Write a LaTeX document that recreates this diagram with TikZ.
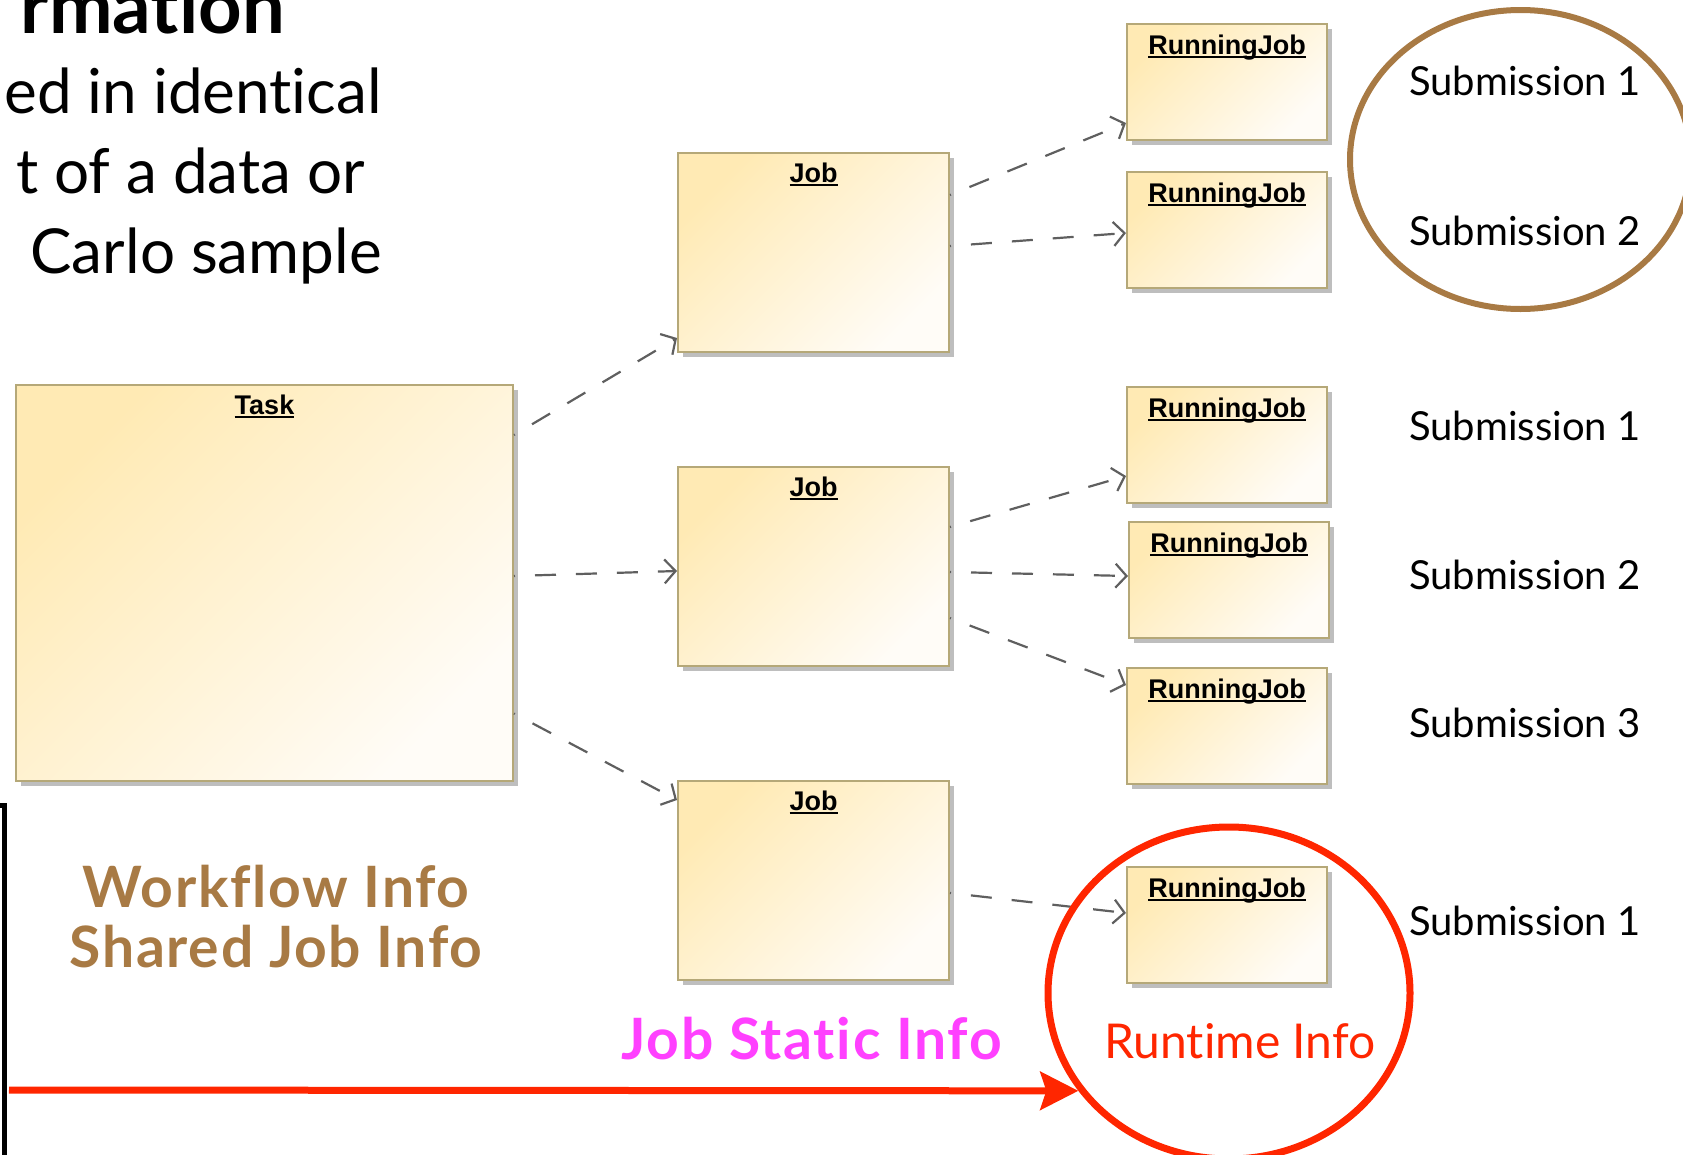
\documentclass[tikz,border=0pt]{standalone}
\usepackage{fontspec}
\setmainfont{Lato}[Ligatures=NoCommon]
\newfontfamily\umlfont{Liberation Sans}
\usepackage{tikz}
\usetikzlibrary{shapes.geometric,arrows.meta,shadows}
\definecolor{umlfill}{RGB}{255,234,180}
\definecolor{umlfade}{RGB}{255,252,247}
\definecolor{umlborder}{RGB}{181,168,120}
\definecolor{umlshadow}{RGB}{190,190,190}
\definecolor{depgray}{RGB}{95,95,95}
\definecolor{infobrown}{RGB}{168,122,68}
\definecolor{staticpink}{RGB}{255,64,255}
\definecolor{runtimered}{RGB}{255,38,0}
% underlined object name, rule just under the baseline
\newcommand{\umlname}[1]{\setbox0\hbox{#1}\rlap{\rule[-4pt]{\wd0}{2pt}}\box0}

\begin{document}
\begin{tikzpicture}[x=1pt, y=-1pt,
    umlbox/.style={draw=umlborder, line width=2pt, top color=umlfill, bottom color=umlfade, shading angle=45,
        drop shadow={shadow xshift=5pt, shadow yshift=-5pt, fill=umlshadow, opacity=1}, inner sep=0pt},
    jobbox/.style={umlbox, minimum width=271pt, minimum height=199pt},
    runbox/.style={umlbox, minimum width=200pt, minimum height=116pt},
    umltitle/.style={font=\umlfont\bfseries\fontsize{27}{32}\selectfont, anchor=base, inner sep=0pt},
    dep/.style={draw=depgray, line width=2.2pt, dash pattern=on 21pt off 20pt, dash phase=20pt,
        -{Straight Barb[length=11pt,width=24pt]}},
    sublabel/.style={font=\fontsize{40}{48}\selectfont, anchor=base west, inner sep=0pt},
    slidetext/.style={font=\fontsize{62}{80}\selectfont, anchor=base east, inner sep=0pt},
    bigbold/.style={font=\bfseries\fontsize{57}{64}\selectfont\addfontfeature{LetterSpace=3}, anchor=base, inner sep=0pt}
]
    \useasboundingbox (0,0) rectangle (1683,1154);
    \clip (0,0) rectangle (1683,1154);

    % slide text cut off at the left
    \node[slidetext, font=\bfseries\fontsize{76}{80}\selectfont] (head) at (285,33) {rmation};
    \node[slidetext] (line1) at (382,113) {ed in identical};
    \node[slidetext] (line2) at (365,193) {t of a data or};
    \node[slidetext] (line3) at (382,273) {Carlo sample};

    % objects
    \node[umlbox, minimum width=497pt, minimum height=396pt] (task) at (264.5,583) {};
    \node[jobbox] (job1) at (813.5,252.5) {};
    \node[jobbox] (job2) at (813.5,566.5) {};
    \node[jobbox] (job3) at (813.5,880.5) {};
    \node[runbox] (rj1) at (1227,82) {};
    \node[runbox] (rj2) at (1227,230) {};
    \node[runbox] (rj3) at (1227,445) {};
    \node[runbox] (rj4) at (1229,580) {};
    \node[runbox] (rj5) at (1227,726) {};
    \node[runbox] (rj6) at (1227,925) {};

    \node[umltitle] (tasktitle) at ([yshift=-30pt]task.north) {\umlname{Task}};
    \node[umltitle] (job1title) at ([yshift=-30pt]job1.north) {\umlname{Job}};
    \node[umltitle] (job2title) at ([yshift=-30pt]job2.north) {\umlname{Job}};
    \node[umltitle] (job3title) at ([yshift=-30pt]job3.north) {\umlname{Job}};
    \node[umltitle] (rj1title) at ([yshift=-31pt]rj1.north) {\umlname{RunningJob}};
    \node[umltitle] (rj2title) at ([yshift=-31pt]rj2.north) {\umlname{RunningJob}};
    \node[umltitle] (rj3title) at ([yshift=-31pt]rj3.north) {\umlname{RunningJob}};
    \node[umltitle] (rj4title) at ([yshift=-31pt]rj4.north) {\umlname{RunningJob}};
    \node[umltitle] (rj5title) at ([yshift=-31pt]rj5.north) {\umlname{RunningJob}};
    \node[umltitle] (rj6title) at ([yshift=-31pt]rj6.north) {\umlname{RunningJob}};

    % dependencies
    \draw[dep] ([yshift=148pt]task.east) -- ([yshift=-85.5pt]job1.west);
    \draw[dep] ([yshift=7pt]task.east) -- ([yshift=-4.5pt]job2.west);
    \draw[dep] ([yshift=-130.5pt]task.east) -- ([yshift=80.5pt]job3.west);
    \draw[dep] ([yshift=57.5pt]job1.east) -- ([yshift=-41pt]rj1.west);
    \draw[dep] ([yshift=6.5pt]job1.east) -- ([yshift=-3pt]rj2.west);
    \draw[dep] ([yshift=39.5pt]job2.east) -- ([yshift=-31pt]rj3.west);
    \draw[dep] ([yshift=-5.5pt]job2.east) -- ([yshift=4pt]rj4.west);
    \draw[dep] ([yshift=-51.5pt]job2.east) -- ([yshift=41pt]rj5.west);
    \draw[dep] ([yshift=-12.5pt]job3.east) -- ([yshift=12pt]rj6.west);

    % submissions
    \node[sublabel] (sub1a) at (1409,95) {Submission 1};
    \node[sublabel] (sub2a) at (1409,245) {Submission 2};
    \node[sublabel] (sub1b) at (1409,440) {Submission 1};
    \node[sublabel] (sub2b) at (1409,589) {Submission 2};
    \node[sublabel] (sub3b) at (1409,737) {Submission 3};
    \node[sublabel] (sub1c) at (1409,935) {Submission 1};

    \node[ellipse, draw=infobrown, line width=6pt, minimum width=341pt, minimum height=299pt, inner sep=0pt]
        (subring) at (1520.5,159.5) {};

    % info captions
    \node[bigbold, text=infobrown] (wfinfo) at (276,907) {Workflow Info};
    \node[bigbold, text=infobrown] (sjinfo) at (276,967) {Shared Job Info};
    \node[bigbold, text=staticpink] (jsinfo) at (811.5,1059) {Job Static Info};
    \node[font=\fontsize{48}{56}\selectfont, anchor=base, inner sep=0pt, text=runtimered] (rtinfo) at (1240,1058) {Runtime Info};

    \node[ellipse, draw=runtimered, line width=7pt, minimum width=362pt, minimum height=332pt, inner sep=0pt]
        (runtime) at (1229,993) {};

    \coordinate (arrowstart) at (9,1090);
    \draw[runtimered, line width=7pt, -{Stealth[length=38pt,width=38pt,inset=6pt]}] (arrowstart) -- (runtime.213.9);

    % frame edge at the left
    \draw[line width=5pt] (-10,805) -- (4,805) -- (4,1160);
\end{tikzpicture}
\end{document}
